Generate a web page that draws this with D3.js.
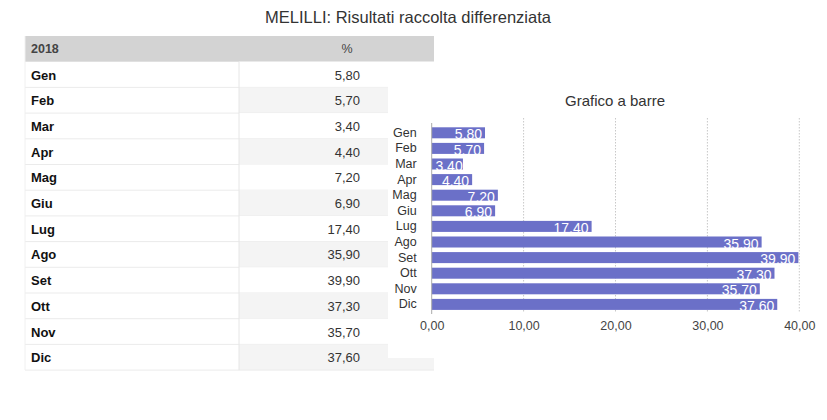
<!DOCTYPE html>
<html><head><meta charset="utf-8">
<script src="https://cdn.jsdelivr.net/npm/d3@7"></script>
<style>body{margin:0;background:#fff;} svg{display:block;font-family:"Liberation Sans",Arial,sans-serif;}</style>
</head><body>
<svg id="c" width="827" height="420"></svg>
<script>
const months = ["Gen","Feb","Mar","Apr","Mag","Giu","Lug","Ago","Set","Ott","Nov","Dic"];
const values = [5.80,5.70,3.40,4.40,7.20,6.90,17.40,35.90,39.90,37.30,35.70,37.60];
const xTicks = [0,10,20,30,40];
const headerLabels = ["2018","%"];
const title = "MELILLI: Risultati raccolta differenziata";
const chartTitle = "Grafico a barre";

const svg = d3.select("#c");
const itFmt = v => v.toFixed(2).replace(".", ",");

svg.append("text").attr("x",408).attr("y",23).attr("text-anchor","middle")
  .attr("font-size",16.5).attr("fill","#333").text(title);

// table
const tx0 = 25, tx1 = 434, colX = 239, rowH = 25.7, ty0 = 36;
svg.append("rect").attr("x",tx0).attr("y",ty0).attr("width",tx1-tx0).attr("height",rowH).attr("fill","#d3d3d3");
svg.append("text").attr("x",31).attr("y",ty0+rowH/2+4.5).attr("font-size",12.5).attr("font-weight","bold").attr("fill","#444").text(headerLabels[0]);
svg.append("text").attr("x",347).attr("y",ty0+rowH/2+4.5).attr("text-anchor","middle").attr("font-size",12.5).attr("fill","#444").text(headerLabels[1]);

const rows = svg.append("g").selectAll("g").data(months).join("g")
  .attr("transform",(d,i)=>`translate(0,${ty0+rowH*(i+1)})`);
rows.append("rect").attr("x",colX).attr("width",tx1-colX).attr("height",rowH)
  .attr("fill",(d,i)=> i%2 ? "#f4f4f4" : "#fff");
rows.append("line").attr("x1",tx0).attr("x2",tx1).attr("y1",rowH).attr("y2",rowH).attr("stroke","#ebebeb");
rows.append("text").attr("x",31).attr("y",rowH/2+5).attr("font-size",13).attr("font-weight","bold").attr("fill","#111").text(d=>d);
rows.append("text").attr("x",360).attr("y",rowH/2+5).attr("text-anchor","end").attr("font-size",13).attr("fill","#333").text((d,i)=>itFmt(values[i]));
svg.append("line").attr("x1",colX).attr("x2",colX).attr("y1",ty0+rowH).attr("y2",ty0+rowH*13).attr("stroke","#e6e6e6");
svg.append("line").attr("x1",tx0).attr("x2",tx0).attr("y1",ty0).attr("y2",ty0+rowH*13).attr("stroke","#f0f0f0");

// chart panel
svg.append("rect").attr("x",388).attr("y",62).attr("width",439).attr("height",296).attr("fill","#fff");
svg.append("text").attr("x",615).attr("y",106).attr("text-anchor","middle").attr("font-size",15).attr("fill","#333").text(chartTitle);

const x = d3.scaleLinear().domain([0,40]).range([431.7,799.3]);
const y = d3.scaleBand().domain(months).range([125,312.2]).paddingInner(0.294).paddingOuter(0.147);

const g = svg.append("g");
g.selectAll(".grid").data(xTicks.slice(1)).join("line")
  .attr("x1",d=>x(d)).attr("x2",d=>x(d)).attr("y1",118).attr("y2",313)
  .attr("stroke","#c8c8c8").attr("stroke-dasharray","1.5,1.5");

g.selectAll(".bar").data(values).join("rect")
  .attr("x",x(0)).attr("y",(d,i)=>y(months[i])).attr("width",d=>x(d)-x(0)).attr("height",y.bandwidth())
  .attr("fill","#6b70c8");

g.selectAll(".lbl").data(values).join("text")
  .attr("x",d=>Math.max(x(d)-3, x(0)+31)).attr("y",(d,i)=>y(months[i])+y.bandwidth()/2+6.5)
  .attr("text-anchor","end").attr("font-size",14).attr("fill","#fff").text(d=>d.toFixed(2));

g.append("line").attr("x1",x(0)).attr("x2",x(0)).attr("y1",123).attr("y2",314).attr("stroke","#aaa");

const xa = g.append("g").attr("transform","translate(0,312.2)")
  .call(d3.axisBottom(x).tickValues(xTicks).tickFormat(itFmt).tickSize(0).tickPadding(9));
xa.select(".domain").remove();
xa.selectAll("text").attr("font-size",12.5).attr("fill","#444").attr("font-family","Liberation Sans, Arial, sans-serif");

const ya = g.append("g").attr("transform",`translate(${x(0)-15},0)`)
  .call(d3.axisLeft(y).tickSize(0).tickPadding(0));
ya.select(".domain").remove();
ya.selectAll("text").attr("font-size",12.5).attr("fill","#333").attr("font-family","Liberation Sans, Arial, sans-serif");
</script>
</body></html>
